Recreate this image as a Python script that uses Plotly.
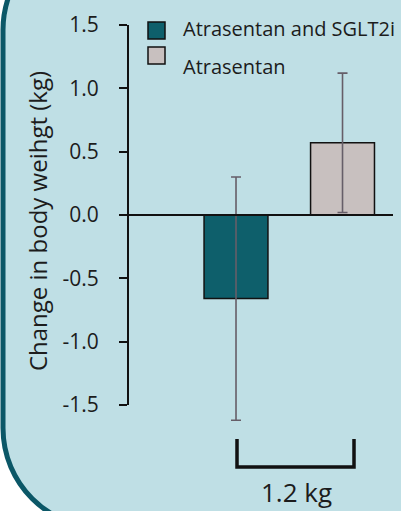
import plotly.graph_objects as go

# Mean change in body weight per treatment group, with error (SD)
groups = ["Atrasentan and SGLT2i", "Atrasentan"]
mean_change = [-0.66, 0.57]
error_sd = [0.96, 0.55]
bar_colors = ["#0e5f6b", "#c8c0bf"]

y_ticks = [-1.5, -1.0, -0.5, 0.0, 0.5, 1.0, 1.5]
y_tick_text = ["-1.5", "-1.0", "-0.5", "0.0", "0.5", "1.0", "1.5"]
y_title = "Change in body weihgt (kg)"
scale_label = "1.2 kg"

FONT = "Open Sans"
TXT = "#1c1c1c"
BG = "#bfdfe5"
FRAME = "#0b5767"
ERR = "#665e68"

W, H = 401, 511
ML, MB = 128, 69
PW, PH = W - ML, H - MB


def px(xp):
    """pixel x -> paper x"""
    return (xp - ML) / PW


def py(yp):
    """pixel y -> paper y"""
    return (PH - yp) / PH


fig = go.Figure()
for name, val, err, col in zip(groups, mean_change, error_sd, bar_colors):
    fig.add_trace(go.Bar(
        x=[name], y=[val], name=name,
        width=0.6,
        marker=dict(color=col, line=dict(color="#111111", width=1.5)),
        error_y=dict(type="data", array=[err], symmetric=True,
                     color=ERR, thickness=1.6, width=5),
        showlegend=False,
    ))

shapes = []

# rounded panel frame behind the chart
L, R, T, B = px(3), px(520), py(-70), py(528)
rx, ry = 100 / PW, 100 / PH
k = 0.5523
frame_path = (
    f"M {L},{T - ry} L {L},{B + ry} "
    f"C {L},{B + ry * (1 - k)} {L + rx * (1 - k)},{B} {L + rx},{B} "
    f"L {R},{B} L {R},{T} L {L + rx},{T} "
    f"C {L + rx * (1 - k)},{T} {L},{T - ry * (1 - k)} {L},{T - ry} Z"
)
shapes.append(dict(type="path", path=frame_path, xref="paper", yref="paper",
                   fillcolor=BG, line=dict(color=FRAME, width=5), layer="below"))

# y axis line spanning the tick range only
shapes.append(dict(type="line", xref="x domain", yref="y",
                   x0=0, x1=0, y0=min(y_ticks), y1=max(y_ticks),
                   line=dict(color="#111111", width=2)))
# zero baseline
shapes.append(dict(type="line", xref="x domain", yref="y",
                   x0=0, x1=px(393), y0=0, y1=0,
                   line=dict(color="#111111", width=2)))

# legend swatches
for i, col in enumerate(bar_colors):
    top = 22 + 25 * i
    shapes.append(dict(type="rect", xref="paper", yref="paper",
                       x0=px(148), x1=px(165), y0=py(top + 17), y1=py(top),
                       fillcolor=col, line=dict(color="#111111", width=1.5)))

# scale bracket under the bars
shapes.append(dict(type="path", xref="paper", yref="paper",
                   path=(f"M {px(237)},{py(439)} L {px(237)},{py(467)} "
                         f"L {px(354)},{py(467)} L {px(354)},{py(439)}"),
                   line=dict(color="#111111", width=3.5)))

annotations = []
for i, name in enumerate(groups):
    annotations.append(dict(text=name, xref="paper", yref="paper",
                            x=px(181), y=py(29 + 37 * i),
                            xanchor="left", yanchor="middle", showarrow=False,
                            font=dict(family=FONT, size=20, color=TXT)))
annotations.append(dict(text=scale_label, xref="paper", yref="paper",
                        x=px(296), y=py(492), xanchor="center", yanchor="middle",
                        showarrow=False,
                        font=dict(family=FONT, size=26, color=TXT)))

fig.update_layout(
    width=W, height=H,
    margin=dict(l=ML, r=0, t=0, b=MB, pad=0),
    paper_bgcolor="white",
    plot_bgcolor="rgba(0,0,0,0)",
    shapes=shapes,
    annotations=annotations,
    xaxis=dict(visible=False, range=[-1.014, 1.549], fixedrange=True),
    yaxis=dict(
        range=[-1.792, 1.697],
        tickvals=y_ticks, ticktext=y_tick_text,
        ticks="outside", ticklen=8, tickwidth=2, tickcolor="#111111",
        ticklabelstandoff=16,
        showline=False, showgrid=False, zeroline=False,
        tickfont=dict(family=FONT, size=21, color=TXT),
        title=dict(text=y_title, standoff=8,
                   font=dict(family=FONT, size=24, color=TXT)),
    ),
)

fig.write_html("out.html")
